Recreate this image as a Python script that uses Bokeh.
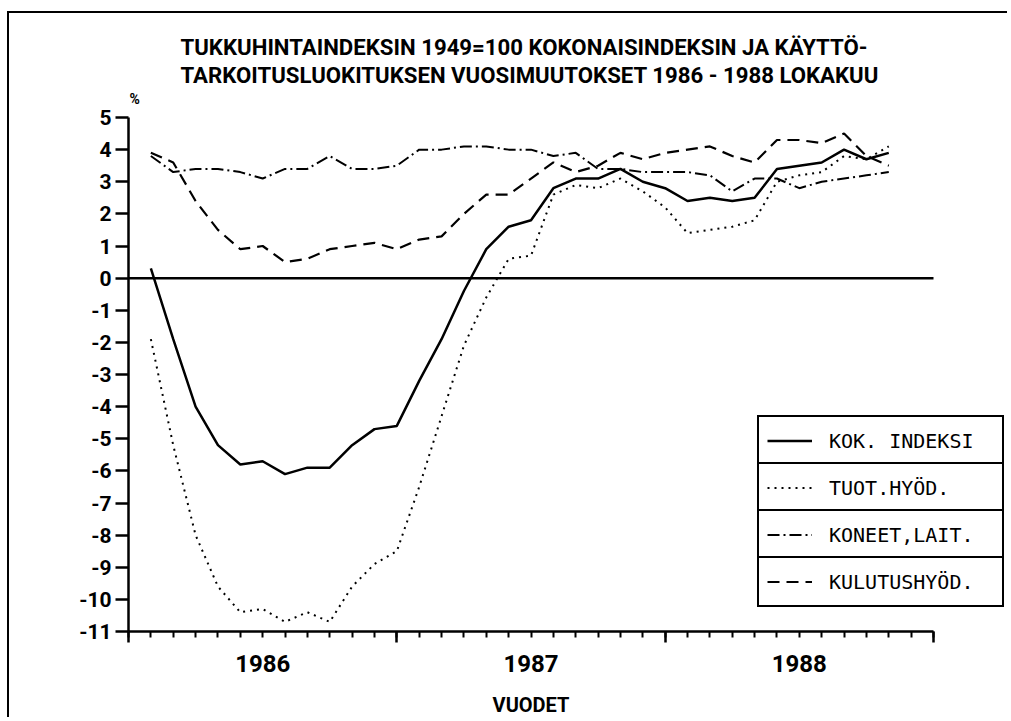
from bokeh.plotting import figure
from bokeh.models import Range1d, FixedTicker, LinearAxis, Label, Legend, LegendItem
from bokeh.embed import file_html
from bokeh.resources import INLINE

# ---------------- data ----------------
# month index: 1 = Jan 1986 ... 34 = Oct 1988
months = [1, 2, 3, 4, 5, 6, 7, 8, 9, 10, 11, 12,
          13, 14, 15, 16, 17, 18, 19, 20, 21, 22, 23, 24,
          25, 26, 27, 28, 29, 30, 31, 32, 33, 34]
kok_indeksi = [0.3, -1.9, -4.0, -5.2, -5.8, -5.7, -6.1, -5.9, -5.9, -5.2, -4.7, -4.6,
               -3.2, -1.9, -0.4, 0.9, 1.6, 1.8, 2.8, 3.1, 3.1, 3.4, 3.0, 2.8,
               2.4, 2.5, 2.4, 2.5, 3.4, 3.5, 3.6, 4.0, 3.7, 3.9]
tuot_hyod = [-1.9, -5.2, -8.0, -9.6, -10.4, -10.3, -10.7, -10.4, -10.7, -9.6, -8.9, -8.5,
             -6.5, -4.3, -2.1, -0.6, 0.6, 0.7, 2.6, 2.9, 2.8, 3.1, 2.7, 2.2,
             1.4, 1.5, 1.6, 1.8, 3.0, 3.2, 3.3, 3.8, 3.7, 4.1]
koneet_lait = [3.8, 3.3, 3.4, 3.4, 3.3, 3.1, 3.4, 3.4, 3.8, 3.4, 3.4, 3.5,
               4.0, 4.0, 4.1, 4.1, 4.0, 4.0, 3.8, 3.9, 3.4, 3.4, 3.3, 3.3,
               3.3, 3.2, 2.7, 3.1, 3.1, 2.8, 3.0, 3.1, 3.2, 3.3]
kulutushyod = [3.9, 3.6, 2.4, 1.5, 0.9, 1.0, 0.5, 0.6, 0.9, 1.0, 1.1, 0.9,
               1.2, 1.3, 2.0, 2.6, 2.6, 3.1, 3.6, 3.3, 3.5, 3.9, 3.7, 3.9,
               4.0, 4.1, 3.8, 3.6, 4.3, 4.3, 4.2, 4.5, 3.8, 3.5]
series_names = ["KOK. INDEKSI", "TUOT.HYÖD.", "KONEET,LAIT.", "KULUTUSHYÖD."]
year_labels = ["1986", "1987", "1988"]
year_centers = [6, 18, 30]
year_bounds = [0, 12, 24, 36]
month_ticks = list(range(0, 37))
y_ticks = [-11, -10, -9, -8, -7, -6, -5, -4, -3, -2, -1, 0, 1, 2, 3, 4, 5]
title_lines = ["TUKKUHINTAINDEKSIN 1949=100 KOKONAISINDEKSIN JA KÄYTTÖ-",
               "TARKOITUSLUOKITUKSEN VUOSIMUUTOKSET 1986 - 1988 LOKAKUU"]
y_unit = "%"
x_title = "VUODET"

# ---------------- layout (screen px of reference) ----------------
OFFX, OFFY = 9, 13               # css margin + 2px border
SL, SR, ST, SB = 128, 933, 117, 631
W, H = 1000, 706
PXM = (SR - SL) / 36.0
PXV = (SB - ST) / 16.0
X_END = 36 + (OFFX + W - SR) / PXM
Y_TOP = 5 + (ST - OFFY) / PXV


def dx(sx):
    return (sx - SL) / PXM


def dy(sy):
    return 5 - (sy - ST) / PXV


p = figure(width=W, height=H, output_backend="svg", toolbar_location=None,
           x_range=Range1d(0, X_END), y_range=Range1d(-11, Y_TOP),
           x_axis_location=None, y_axis_location=None,
           min_border_left=SL - OFFX, min_border_right=0,
           min_border_top=0, min_border_bottom=H - (SB - OFFY))
p.xgrid.grid_line_color = None
p.ygrid.grid_line_color = None
p.outline_line_color = None
p.background_fill_color = "white"
p.border_fill_color = "white"
p.styles = {"border-top": "2px solid black", "border-left": "2px solid black",
            "margin-left": "7px", "margin-top": "11px"}

# y axis
yaxis = LinearAxis(ticker=FixedTicker(ticks=y_ticks), bounds=(y_ticks[0], y_ticks[-1]),
                   major_label_overrides={t: str(t) for t in y_ticks},
                   major_tick_out=13, major_tick_in=0,
                   minor_tick_out=0, minor_tick_in=0,
                   axis_line_width=2.5, major_tick_line_width=2.5,
                   major_label_standoff=4,
                   major_label_text_font="Roboto",
                   major_label_text_font_style="bold",
                   major_label_text_font_size="21px",
                   major_label_text_color="black")
p.add_layout(yaxis, "left")

# x axis: rule + month ticks (no labels)
xaxis1 = LinearAxis(ticker=FixedTicker(ticks=year_bounds, minor_ticks=month_ticks),
                    bounds=(year_bounds[0], year_bounds[-1]),
                    major_tick_out=11, major_tick_in=0,
                    minor_tick_out=6, minor_tick_in=0,
                    axis_line_width=2.5, major_tick_line_width=2.5,
                    minor_tick_line_width=2,
                    major_label_text_color=None,
                    major_label_text_font_size="1px",
                    major_label_standoff=0)
p.add_layout(xaxis1, "below")

# x axis: year labels
xaxis2 = LinearAxis(ticker=FixedTicker(ticks=year_centers),
                    major_label_overrides={c: l for c, l in zip(year_centers, year_labels)},
                    major_tick_line_color=None, minor_tick_line_color=None,
                    axis_line_color=None,
                    major_tick_out=0, major_tick_in=0,
                    major_label_standoff=12,
                    major_label_text_font="Roboto",
                    major_label_text_font_style="bold",
                    major_label_text_font_size="24px",
                    major_label_text_color="black")
p.add_layout(xaxis2, "below")

# x axis title (centered under the dated span)
mid = (year_bounds[0] + year_bounds[-1]) / 2
xaxis3 = LinearAxis(ticker=FixedTicker(ticks=[mid]),
                    major_label_overrides={mid: x_title},
                    major_tick_line_color=None, minor_tick_line_color=None,
                    axis_line_color=None,
                    major_tick_out=0, major_tick_in=0,
                    major_label_standoff=18,
                    major_label_text_font="Roboto",
                    major_label_text_font_style="bold",
                    major_label_text_font_size="20px",
                    major_label_text_color="black")
p.add_layout(xaxis3, "below")

# zero reference line across the dated span
p.segment(x0=[year_bounds[0]], x1=[year_bounds[-1]], y0=[0], y1=[0],
          line_color="black", line_width=2.5)

r1 = p.line(months, kok_indeksi, line_color="black", line_width=2.5)
r2 = p.line(months, tuot_hyod, line_color="black", line_width=2, line_dash="2 5")
r3 = p.line(months, koneet_lait, line_color="black", line_width=2, line_dash="12 4 2 4")
r4 = p.line(months, kulutushyod, line_color="black", line_width=2.2, line_dash="12 7")

# legend: four stacked boxes
for k, (name, r) in enumerate(zip(series_names, [r1, r2, r3, r4])):
    leg = Legend(items=[LegendItem(label=name, renderers=[r])],
                 location=(757 - SL, (SB - 466) - 47 * k),
                 orientation="vertical",
                 padding=8, spacing=0, margin=0,
                 label_height=31, glyph_height=31, glyph_width=45,
                 label_standoff=17, label_width=165,
                 border_line_color="black", border_line_width=2,
                 border_line_alpha=1,
                 background_fill_color="white", background_fill_alpha=1,
                 label_text_font="DejaVu Sans Mono",
                 label_text_font_size="20px", label_text_color="black")
    p.add_layout(leg)

# title and unit
for i, line in enumerate(title_lines):
    p.add_layout(Label(x=dx(180), y=dy(46 + 28 * i), text=line,
                       text_align="left", text_baseline="middle",
                       text_font="Roboto", text_font_style="bold",
                       text_font_size="22.2px", text_color="black"))
p.add_layout(Label(x=dx(129), y=dy(98), text=y_unit, text_align="left",
                   text_baseline="middle", text_font="Roboto",
                   text_font_style="bold", text_font_size="14px", text_color="black"))

open("out.html", "w").write(file_html(p, INLINE))
